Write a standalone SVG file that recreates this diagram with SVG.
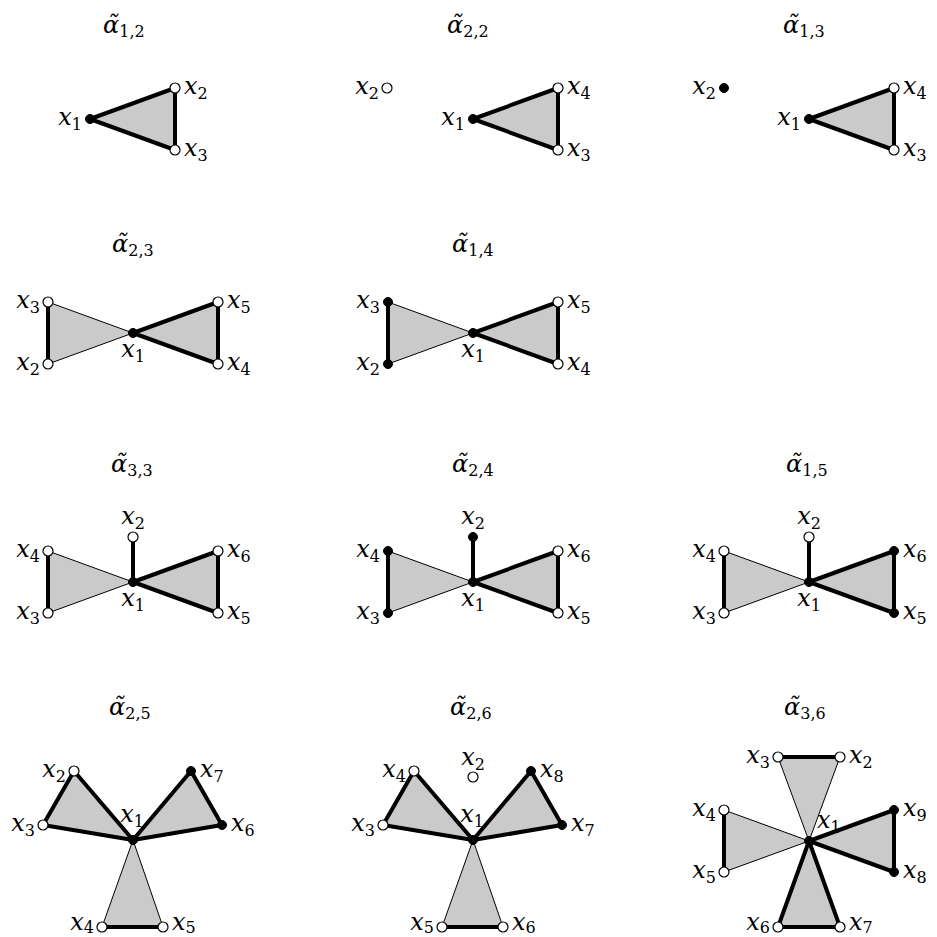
<svg xmlns="http://www.w3.org/2000/svg" width="937" height="937" viewBox="0 0 937 937">
<style>
.bg{fill:#fff}
.face{fill:#cacaca;stroke:#000;stroke-width:1;stroke-linejoin:round}
.e{stroke:#000;stroke-width:4;stroke-linecap:round;stroke-linejoin:round;fill:none}
.w{fill:#fff;stroke:#000;stroke-width:1.2}
.b{fill:#000;stroke:#000;stroke-width:1}
text{font-family:"DejaVu Serif",serif;fill:#000}
.l,.t{font-style:italic;font-size:24px}
.s{font-style:normal;font-size:16px}
.R{text-anchor:start}
.L{text-anchor:end}
.C{text-anchor:middle}
</style>
<rect class="bg" width="937" height="937"/>

<!-- Panel 1 -->
<g id="p1">
<text class="t R" x="103" y="33">α̃<tspan class="s" dy="4">1,2</tspan></text>
<polygon class="face" points="90,119 175,88 175,150"/>
<g id="p1-edges"><path class="e" d="M90,119L175,88M90,119L175,150M175,88L175,150"/></g>
<g id="p1-x1"><circle class="b" cx="90" cy="119" r="4.5"/><text class="l L" x="82" y="125">x<tspan class="s" dy="5">1</tspan></text></g>
<g id="p1-x2"><circle class="w" cx="175" cy="88" r="5"/><text class="l R" x="184" y="94">x<tspan class="s" dy="5">2</tspan></text></g>
<g id="p1-x3"><circle class="w" cx="175" cy="150" r="5"/><text class="l R" x="184" y="156">x<tspan class="s" dy="5">3</tspan></text></g>
</g>

<!-- Panel 2 -->
<g id="p2">
<text class="t R" x="447" y="33">α̃<tspan class="s" dy="4">2,2</tspan></text>
<polygon class="face" points="473,119 558,88 558,150"/>
<g id="p2-edges"><path class="e" d="M473,119L558,88M473,119L558,150M558,88L558,150"/></g>
<g id="p2-x2"><circle class="w" cx="387" cy="88" r="5"/><text class="l L" x="379" y="94">x<tspan class="s" dy="5">2</tspan></text></g>
<g id="p2-x1"><circle class="b" cx="473" cy="119" r="4.5"/><text class="l L" x="465" y="125">x<tspan class="s" dy="5">1</tspan></text></g>
<g id="p2-x4"><circle class="w" cx="558" cy="88" r="5"/><text class="l R" x="567" y="94">x<tspan class="s" dy="5">4</tspan></text></g>
<g id="p2-x3"><circle class="w" cx="558" cy="150" r="5"/><text class="l R" x="567" y="156">x<tspan class="s" dy="5">3</tspan></text></g>
</g>

<!-- Panel 3 -->
<g id="p3">
<text class="t R" x="783" y="33">α̃<tspan class="s" dy="4">1,3</tspan></text>
<polygon class="face" points="809,119 894,88 894,150"/>
<g id="p3-edges"><path class="e" d="M809,119L894,88M809,119L894,150M894,88L894,150"/></g>
<g id="p3-x2"><circle class="b" cx="724" cy="88" r="4.5"/><text class="l L" x="716" y="94">x<tspan class="s" dy="5">2</tspan></text></g>
<g id="p3-x1"><circle class="b" cx="809" cy="119" r="4.5"/><text class="l L" x="801" y="125">x<tspan class="s" dy="5">1</tspan></text></g>
<g id="p3-x4"><circle class="w" cx="894" cy="88" r="5"/><text class="l R" x="903" y="94">x<tspan class="s" dy="5">4</tspan></text></g>
<g id="p3-x3"><circle class="w" cx="894" cy="150" r="5"/><text class="l R" x="903" y="156">x<tspan class="s" dy="5">3</tspan></text></g>
</g>

<!-- Panel 4 -->
<g id="p4">
<text class="t R" x="112" y="252">α̃<tspan class="s" dy="4">2,3</tspan></text>
<polygon class="face" points="133,333 48,302 48,364"/>
<polygon class="face" points="133,333 218,302 218,364"/>
<g id="p4-edges"><path class="e" d="M48,302L48,364M133,333L218,302M133,333L218,364M218,302L218,364"/></g>
<g id="p4-x1"><circle class="b" cx="133" cy="333" r="4.5"/><text class="l C" x="133" y="357">x<tspan class="s" dy="5">1</tspan></text></g>
<g id="p4-x3"><circle class="w" cx="48" cy="302" r="5"/><text class="l L" x="40" y="308">x<tspan class="s" dy="5">3</tspan></text></g>
<g id="p4-x2"><circle class="w" cx="48" cy="364" r="5"/><text class="l L" x="40" y="370">x<tspan class="s" dy="5">2</tspan></text></g>
<g id="p4-x5"><circle class="w" cx="218" cy="302" r="5"/><text class="l R" x="227" y="308">x<tspan class="s" dy="5">5</tspan></text></g>
<g id="p4-x4"><circle class="w" cx="218" cy="364" r="5"/><text class="l R" x="227" y="370">x<tspan class="s" dy="5">4</tspan></text></g>
</g>

<!-- Panel 5 -->
<g id="p5">
<text class="t R" x="452" y="252">α̃<tspan class="s" dy="4">1,4</tspan></text>
<polygon class="face" points="473,333 388,302 388,364"/>
<polygon class="face" points="473,333 558,302 558,364"/>
<g id="p5-edges"><path class="e" d="M388,302L388,364M473,333L558,302M473,333L558,364M558,302L558,364"/></g>
<g id="p5-x1"><circle class="b" cx="473" cy="333" r="4.5"/><text class="l C" x="473" y="357">x<tspan class="s" dy="5">1</tspan></text></g>
<g id="p5-x3"><circle class="b" cx="388" cy="302" r="4.5"/><text class="l L" x="380" y="308">x<tspan class="s" dy="5">3</tspan></text></g>
<g id="p5-x2"><circle class="b" cx="388" cy="364" r="4.5"/><text class="l L" x="380" y="370">x<tspan class="s" dy="5">2</tspan></text></g>
<g id="p5-x5"><circle class="w" cx="558" cy="302" r="5"/><text class="l R" x="567" y="308">x<tspan class="s" dy="5">5</tspan></text></g>
<g id="p5-x4"><circle class="w" cx="558" cy="364" r="5"/><text class="l R" x="567" y="370">x<tspan class="s" dy="5">4</tspan></text></g>
</g>

<!-- Panel 6 -->
<g id="p6">
<text class="t R" x="111" y="472">α̃<tspan class="s" dy="4">3,3</tspan></text>
<polygon class="face" points="133,582 48,551 48,613"/>
<polygon class="face" points="133,582 218,551 218,613"/>
<g id="p6-edges"><path class="e" d="M133,582L133,537M48,551L48,613M133,582L218,551M133,582L218,613M218,551L218,613"/></g>
<g id="p6-x1"><circle class="b" cx="133" cy="582" r="4.5"/><text class="l C" x="133" y="606">x<tspan class="s" dy="5">1</tspan></text></g>
<g id="p6-x2"><circle class="w" cx="133" cy="537" r="5"/><text class="l C" x="133" y="524">x<tspan class="s" dy="5">2</tspan></text></g>
<g id="p6-x4"><circle class="w" cx="48" cy="551" r="5"/><text class="l L" x="40" y="557">x<tspan class="s" dy="5">4</tspan></text></g>
<g id="p6-x3"><circle class="w" cx="48" cy="613" r="5"/><text class="l L" x="40" y="619">x<tspan class="s" dy="5">3</tspan></text></g>
<g id="p6-x6"><circle class="w" cx="218" cy="551" r="5"/><text class="l R" x="227" y="557">x<tspan class="s" dy="5">6</tspan></text></g>
<g id="p6-x5"><circle class="w" cx="218" cy="613" r="5"/><text class="l R" x="227" y="619">x<tspan class="s" dy="5">5</tspan></text></g>
</g>

<!-- Panel 7 -->
<g id="p7">
<text class="t R" x="452" y="472">α̃<tspan class="s" dy="4">2,4</tspan></text>
<polygon class="face" points="473,582 388,551 388,613"/>
<polygon class="face" points="473,582 558,551 558,613"/>
<g id="p7-edges"><path class="e" d="M473,582L473,537M388,551L388,613M473,582L558,551M473,582L558,613M558,551L558,613"/></g>
<g id="p7-x1"><circle class="b" cx="473" cy="582" r="4.5"/><text class="l C" x="473" y="606">x<tspan class="s" dy="5">1</tspan></text></g>
<g id="p7-x2"><circle class="b" cx="473" cy="537" r="4.5"/><text class="l C" x="473" y="524">x<tspan class="s" dy="5">2</tspan></text></g>
<g id="p7-x4"><circle class="b" cx="388" cy="551" r="4.5"/><text class="l L" x="380" y="557">x<tspan class="s" dy="5">4</tspan></text></g>
<g id="p7-x3"><circle class="b" cx="388" cy="613" r="4.5"/><text class="l L" x="380" y="619">x<tspan class="s" dy="5">3</tspan></text></g>
<g id="p7-x6"><circle class="w" cx="558" cy="551" r="5"/><text class="l R" x="567" y="557">x<tspan class="s" dy="5">6</tspan></text></g>
<g id="p7-x5"><circle class="w" cx="558" cy="613" r="5"/><text class="l R" x="567" y="619">x<tspan class="s" dy="5">5</tspan></text></g>
</g>

<!-- Panel 8 -->
<g id="p8">
<text class="t R" x="786" y="472">α̃<tspan class="s" dy="4">1,5</tspan></text>
<polygon class="face" points="809,582 724,551 724,613"/>
<polygon class="face" points="809,582 894,551 894,613"/>
<g id="p8-edges"><path class="e" d="M809,582L809,537M724,551L724,613M809,582L894,551M809,582L894,613M894,551L894,613"/></g>
<g id="p8-x1"><circle class="b" cx="809" cy="582" r="4.5"/><text class="l C" x="809" y="606">x<tspan class="s" dy="5">1</tspan></text></g>
<g id="p8-x2"><circle class="w" cx="809" cy="537" r="5"/><text class="l C" x="809" y="524">x<tspan class="s" dy="5">2</tspan></text></g>
<g id="p8-x4"><circle class="w" cx="724" cy="551" r="5"/><text class="l L" x="716" y="557">x<tspan class="s" dy="5">4</tspan></text></g>
<g id="p8-x3"><circle class="w" cx="724" cy="613" r="5"/><text class="l L" x="716" y="619">x<tspan class="s" dy="5">3</tspan></text></g>
<g id="p8-x6"><circle class="b" cx="894" cy="551" r="4.5"/><text class="l R" x="903" y="557">x<tspan class="s" dy="5">6</tspan></text></g>
<g id="p8-x5"><circle class="b" cx="894" cy="613" r="4.5"/><text class="l R" x="903" y="619">x<tspan class="s" dy="5">5</tspan></text></g>
</g>

<!-- Panel 9 -->
<g id="p9">
<text class="t R" x="109" y="715">α̃<tspan class="s" dy="4">2,5</tspan></text>
<polygon class="face" points="133,840 74,771 43,825"/>
<polygon class="face" points="133,840 191,771 222,825"/>
<polygon class="face" points="133,840 102,927 163,927"/>
<g id="p9-edges"><path class="e" d="M133,840L74,771L43,825Z M133,840L191,771L222,825Z M102,927L163,927"/></g>
<g id="p9-x1"><circle class="b" cx="133" cy="840" r="4.5"/><text class="l C" x="132" y="822">x<tspan class="s" dy="5">1</tspan></text></g>
<g id="p9-x2"><circle class="w" cx="74" cy="771" r="5"/><text class="l L" x="66" y="777">x<tspan class="s" dy="5">2</tspan></text></g>
<g id="p9-x3"><circle class="w" cx="43" cy="825" r="5"/><text class="l L" x="35" y="831">x<tspan class="s" dy="5">3</tspan></text></g>
<g id="p9-x7"><circle class="b" cx="191" cy="771" r="4.5"/><text class="l R" x="200" y="777">x<tspan class="s" dy="5">7</tspan></text></g>
<g id="p9-x6"><circle class="b" cx="222" cy="825" r="4.5"/><text class="l R" x="231" y="831">x<tspan class="s" dy="5">6</tspan></text></g>
<g id="p9-x4"><circle class="w" cx="102" cy="927" r="5"/><text class="l L" x="94" y="930">x<tspan class="s" dy="3">4</tspan></text></g>
<g id="p9-x5"><circle class="w" cx="163" cy="927" r="5"/><text class="l R" x="172" y="930">x<tspan class="s" dy="3">5</tspan></text></g>
</g>

<!-- Panel 10 -->
<g id="p10">
<text class="t R" x="450" y="715">α̃<tspan class="s" dy="4">2,6</tspan></text>
<polygon class="face" points="473,840 414,771 383,825"/>
<polygon class="face" points="473,840 531,771 562,825"/>
<polygon class="face" points="473,840 442,927 503,927"/>
<g id="p10-edges"><path class="e" d="M473,840L414,771L383,825Z M473,840L531,771L562,825Z M442,927L503,927"/></g>
<g id="p10-x1"><circle class="b" cx="473" cy="840" r="4.5"/><text class="l C" x="472" y="822">x<tspan class="s" dy="5">1</tspan></text></g>
<g id="p10-x2"><circle class="w" cx="473" cy="777" r="5"/><text class="l C" x="473" y="765">x<tspan class="s" dy="5">2</tspan></text></g>
<g id="p10-x4"><circle class="w" cx="414" cy="771" r="5"/><text class="l L" x="406" y="777">x<tspan class="s" dy="5">4</tspan></text></g>
<g id="p10-x3"><circle class="w" cx="383" cy="825" r="5"/><text class="l L" x="375" y="831">x<tspan class="s" dy="5">3</tspan></text></g>
<g id="p10-x8"><circle class="b" cx="531" cy="771" r="4.5"/><text class="l R" x="540" y="777">x<tspan class="s" dy="5">8</tspan></text></g>
<g id="p10-x7"><circle class="b" cx="562" cy="825" r="4.5"/><text class="l R" x="571" y="831">x<tspan class="s" dy="5">7</tspan></text></g>
<g id="p10-x5"><circle class="w" cx="442" cy="927" r="5"/><text class="l L" x="434" y="930">x<tspan class="s" dy="3">5</tspan></text></g>
<g id="p10-x6"><circle class="w" cx="503" cy="927" r="5"/><text class="l R" x="512" y="930">x<tspan class="s" dy="3">6</tspan></text></g>
</g>

<!-- Panel 11 -->
<g id="p11">
<text class="t R" x="784" y="715">α̃<tspan class="s" dy="4">3,6</tspan></text>
<polygon class="face" points="809,841 778,757 840,757"/>
<polygon class="face" points="809,841 724,810 724,872"/>
<polygon class="face" points="809,841 894,810 894,872"/>
<polygon class="face" points="809,841 778,927 840,927"/>
<g id="p11-edges"><path class="e" d="M778,757L840,757 M724,810L724,872 M809,841L894,810L894,872Z M809,841L778,927L840,927Z"/></g>
<g id="p11-x1"><circle class="b" cx="809" cy="841" r="4.5"/><text class="l R" x="817" y="828">x<tspan class="s" dy="5">1</tspan></text></g>
<g id="p11-x3"><circle class="w" cx="778" cy="757" r="5"/><text class="l L" x="770" y="763">x<tspan class="s" dy="5">3</tspan></text></g>
<g id="p11-x2"><circle class="w" cx="840" cy="757" r="5"/><text class="l R" x="849" y="763">x<tspan class="s" dy="5">2</tspan></text></g>
<g id="p11-x4"><circle class="w" cx="724" cy="810" r="5"/><text class="l L" x="716" y="816">x<tspan class="s" dy="5">4</tspan></text></g>
<g id="p11-x5"><circle class="w" cx="724" cy="872" r="5"/><text class="l L" x="716" y="878">x<tspan class="s" dy="5">5</tspan></text></g>
<g id="p11-x9"><circle class="b" cx="894" cy="810" r="4.5"/><text class="l R" x="903" y="816">x<tspan class="s" dy="5">9</tspan></text></g>
<g id="p11-x8"><circle class="b" cx="894" cy="872" r="4.5"/><text class="l R" x="903" y="878">x<tspan class="s" dy="5">8</tspan></text></g>
<g id="p11-x6"><circle class="w" cx="778" cy="927" r="5"/><text class="l L" x="770" y="930">x<tspan class="s" dy="3">6</tspan></text></g>
<g id="p11-x7"><circle class="w" cx="840" cy="927" r="5"/><text class="l R" x="849" y="930">x<tspan class="s" dy="3">7</tspan></text></g>
</g>
</svg>
